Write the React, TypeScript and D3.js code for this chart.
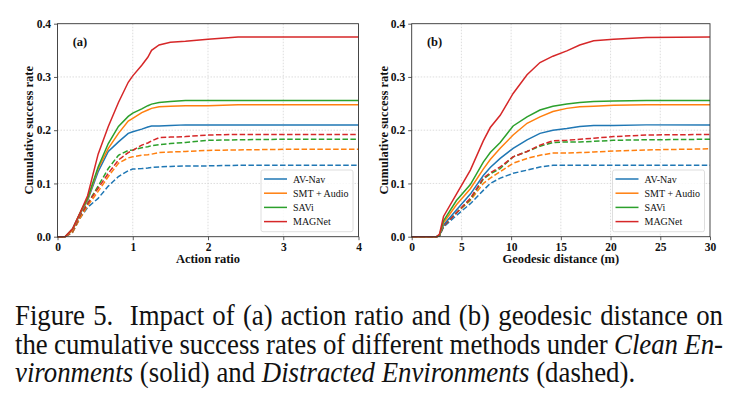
import React, { useRef, useEffect } from 'react';
import * as d3 from 'd3';

const methods = ['AV-Nav', 'SMT + Audio', 'SAVi', 'MAGNet'];
const colors = ['#1f77b4', '#ff7f0e', '#2ca02c', '#d62728'];

// (a) action ratio
const ratioX = [0, 0.1, 0.2, 0.3, 0.4, 0.54, 0.675, 0.81, 0.94, 1.0, 1.12, 1.2, 1.25, 1.35, 1.5, 1.7, 2.0, 2.4, 3.0, 4.0];
const ratioAvNav = [0, 0, 0.012, 0.043, 0.068, 0.122, 0.16, 0.178, 0.194, 0.197, 0.202, 0.206, 0.208, 0.208, 0.209, 0.21, 0.21, 0.21, 0.21, 0.21];
const ratioSmt = [0, 0, 0.012, 0.044, 0.07, 0.128, 0.166, 0.194, 0.217, 0.222, 0.233, 0.238, 0.241, 0.244, 0.245, 0.246, 0.246, 0.248, 0.248, 0.248];
const ratioSavi = [0, 0, 0.015, 0.045, 0.072, 0.131, 0.175, 0.207, 0.226, 0.232, 0.24, 0.246, 0.249, 0.252, 0.254, 0.256, 0.256, 0.256, 0.256, 0.256];
const ratioMagnet = [0, 0, 0.015, 0.045, 0.077, 0.155, 0.207, 0.252, 0.29, 0.302, 0.322, 0.337, 0.35, 0.36, 0.365, 0.367, 0.371, 0.375, 0.375, 0.375];
const ratioAvNavD = [0, 0, 0.008, 0.035, 0.055, 0.072, 0.095, 0.113, 0.124, 0.127, 0.128, 0.129, 0.13, 0.131, 0.132, 0.133, 0.133, 0.134, 0.134, 0.134];
const ratioSmtD = [0, 0, 0.008, 0.035, 0.058, 0.085, 0.113, 0.138, 0.148, 0.15, 0.153, 0.154, 0.155, 0.158, 0.159, 0.16, 0.162, 0.163, 0.164, 0.164];
const ratioSaviD = [0, 0, 0.01, 0.04, 0.062, 0.095, 0.128, 0.153, 0.162, 0.163, 0.167, 0.169, 0.171, 0.173, 0.175, 0.177, 0.181, 0.182, 0.183, 0.183];
const ratioMagnetD = [0, 0, 0.01, 0.04, 0.062, 0.091, 0.119, 0.144, 0.158, 0.162, 0.172, 0.176, 0.18, 0.186, 0.187, 0.188, 0.191, 0.192, 0.192, 0.192];

// (b) geodesic distance
const distX = [0, 2.5, 2.8, 3.2, 4.5, 5.9, 7.2, 7.9, 8.9, 10.2, 11.6, 12.9, 14.2, 15.6, 16.9, 18.3, 20.3, 23.6, 30];
const distAvNav = [0, 0, 0.002, 0.022, 0.05, 0.08, 0.115, 0.13, 0.147, 0.166, 0.182, 0.194, 0.2, 0.203, 0.207, 0.209, 0.209, 0.21, 0.21];
const distSmt = [0, 0, 0.003, 0.026, 0.06, 0.09, 0.127, 0.145, 0.166, 0.191, 0.213, 0.225, 0.235, 0.241, 0.244, 0.245, 0.247, 0.248, 0.248];
const distSavi = [0, 0, 0.003, 0.03, 0.068, 0.098, 0.14, 0.158, 0.177, 0.208, 0.225, 0.238, 0.245, 0.249, 0.252, 0.254, 0.255, 0.256, 0.256];
const distMagnet = [0, 0, 0.005, 0.038, 0.08, 0.125, 0.18, 0.205, 0.228, 0.269, 0.304, 0.327, 0.339, 0.349, 0.36, 0.368, 0.371, 0.374, 0.375];
const distAvNavD = [0, 0, 0.002, 0.018, 0.04, 0.062, 0.087, 0.1, 0.11, 0.119, 0.125, 0.131, 0.134, 0.134, 0.134, 0.134, 0.134, 0.134, 0.134];
const distSmtD = [0, 0, 0.002, 0.02, 0.045, 0.068, 0.1, 0.11, 0.122, 0.138, 0.147, 0.153, 0.157, 0.157, 0.158, 0.159, 0.161, 0.163, 0.165];
const distSaviD = [0, 0, 0.002, 0.02, 0.045, 0.07, 0.108, 0.118, 0.128, 0.15, 0.16, 0.17, 0.177, 0.178, 0.178, 0.179, 0.181, 0.182, 0.183];
const distMagnetD = [0, 0, 0.002, 0.02, 0.045, 0.072, 0.11, 0.12, 0.131, 0.15, 0.16, 0.172, 0.18, 0.181, 0.183, 0.185, 0.188, 0.191, 0.192];

const yTicks = [0, 0.1, 0.2, 0.3, 0.4];
const ratioTicks = [0, 1, 2, 3, 4];
const distTicks = [0, 5, 10, 15, 20, 25, 30];

const captionLines = [
  [{ t: 'Figure 5.  Impact of (a) action ratio and (b) geodesic distance on', i: false }],
  [{ t: 'the cumulative success rates of different methods under ', i: false }, { t: 'Clean En-', i: true }],
  [{ t: 'vironments', i: true }, { t: ' (solid) and ', i: false }, { t: 'Distracted Environments', i: true }, { t: ' (dashed).', i: false }],
];

const SERIF = '"Liberation Serif", "Times New Roman", serif';

const App = () => {
  const ref = useRef<SVGSVGElement>(null);

  useEffect(() => {
    const svg = d3.select(ref.current);
    svg.selectAll('*').remove();

    const top = 23.7, bottom = 236.7;
    const y = d3.scaleLinear().domain([0, 0.4]).range([bottom, top]);

    const drawPanel = (opts) => {
      const { left, right, xMax, xs, solid, dashed, ticks, label, xLabel, yLabelX } = opts;
      const x = d3.scaleLinear().domain([0, xMax]).range([left, right]);
      const g = svg.append('g');

      // grid
      g.selectAll('.gx').data(ticks.slice(1, -1)).enter().append('line')
        .attr('x1', d => x(d)).attr('x2', d => x(d)).attr('y1', top).attr('y2', bottom)
        .attr('stroke', '#d4d4d4').attr('stroke-width', 0.8).attr('stroke-dasharray', '1.5,1.5');
      g.selectAll('.gy').data(yTicks.slice(1, -1)).enter().append('line')
        .attr('x1', left).attr('x2', right).attr('y1', d => y(d)).attr('y2', d => y(d))
        .attr('stroke', '#d4d4d4').attr('stroke-width', 0.8).attr('stroke-dasharray', '1.5,1.5');

      const line = d3.line<number>().x((d, i) => x(xs[i])).y(d => y(d));
      dashed.forEach((vals, k) => {
        g.append('path').attr('d', line(vals)).attr('fill', 'none')
          .attr('stroke', colors[k]).attr('stroke-width', 1.5).attr('stroke-dasharray', '5.5,2.4');
      });
      solid.forEach((vals, k) => {
        g.append('path').attr('d', line(vals)).attr('fill', 'none')
          .attr('stroke', colors[k]).attr('stroke-width', 1.5);
      });

      // axes
      const xa = g.append('g').attr('transform', `translate(0,${bottom})`)
        .call(d3.axisBottom(x).tickValues(ticks).tickFormat(d3.format('d')).tickSize(3.5).tickPadding(3));
      const ya = g.append('g').attr('transform', `translate(${left},0)`)
        .call(d3.axisLeft(y).tickValues(yTicks).tickFormat(d3.format('.1f')).tickSize(3.5).tickPadding(3));
      [xa, ya].forEach(a => {
        a.select('.domain').remove();
        a.selectAll('line').attr('stroke', '#333').attr('stroke-width', 0.8);
        a.selectAll('text').attr('font-family', SERIF).attr('font-size', 11.5)
          .attr('font-weight', 'bold').attr('fill', '#111');
      });

      g.append('rect').attr('x', left).attr('y', top).attr('width', right - left).attr('height', bottom - top)
        .attr('fill', 'none').attr('stroke', '#333').attr('stroke-width', 0.9);

      g.append('text').attr('x', left + 15.2).attr('y', 45.5).text(label)
        .attr('font-family', SERIF).attr('font-size', 12.5).attr('font-weight', 'bold').attr('fill', '#111');

      g.append('text').attr('x', (left + right) / 2).attr('y', 263.3).attr('text-anchor', 'middle')
        .text(xLabel).attr('font-family', SERIF).attr('font-size', 12.5).attr('font-weight', 'bold').attr('fill', '#111');
      g.append('text').attr('transform', `translate(${yLabelX},${(top + bottom) / 2}) rotate(-90)`)
        .attr('text-anchor', 'middle').text('Cumulative success rate')
        .attr('font-family', SERIF).attr('font-size', 12.5).attr('font-weight', 'bold').attr('fill', '#111');

      // legend
      const bw = 92, bh = 61.7;
      const bx = right - 5.5 - bw, by = bottom - 5 - bh;
      const lg = g.append('g');
      lg.append('rect').attr('x', bx).attr('y', by).attr('width', bw).attr('height', bh).attr('rx', 2)
        .attr('fill', 'white').attr('fill-opacity', 0.8).attr('stroke', '#d6d6d6').attr('stroke-width', 0.8);
      methods.forEach((m, k) => {
        const yy = by + 9 + k * 14.2;
        lg.append('line').attr('x1', bx + 3).attr('x2', bx + 26).attr('y1', yy).attr('y2', yy)
          .attr('stroke', colors[k]).attr('stroke-width', 1.5);
        lg.append('text').attr('x', bx + 32).attr('y', yy).attr('dy', '0.35em').text(m)
          .attr('font-family', SERIF).attr('font-size', 10).attr('fill', '#111');
      });
    };

    drawPanel({
      left: 57.5, right: 358.5, xMax: 4, xs: ratioX, ticks: ratioTicks, label: '(a)', xLabel: 'Action ratio', yLabelX: 33,
      solid: [ratioAvNav, ratioSmt, ratioSavi, ratioMagnet],
      dashed: [ratioAvNavD, ratioSmtD, ratioSaviD, ratioMagnetD],
    });
    drawPanel({
      left: 411.7, right: 710, xMax: 30, xs: distX, ticks: distTicks, label: '(b)', xLabel: 'Geodesic distance (m)', yLabelX: 388,
      solid: [distAvNav, distSmt, distSavi, distMagnet],
      dashed: [distAvNavD, distSmtD, distSaviD, distMagnetD],
    });

    // caption, first two lines justified
    const baselines = [325, 353.5, 382];
    const capLeft = 15, capRight = 723;
    captionLines.forEach((parts, li) => {
      const t = svg.append('text')
        .attr('transform', `translate(${capLeft},${baselines[li]}) scale(1,1.06)`)
        .attr('font-family', SERIF).attr('font-size', 26.8).attr('fill', '#111')
        .style('white-space', 'pre');
      parts.forEach(p => {
        t.append('tspan').text(p.t).attr('font-style', p.i ? 'italic' : 'normal');
      });
      if (li < 2) {
        const natural = (t.node() as SVGTextElement).getComputedTextLength();
        const spaces = parts.map(p => p.t).join('').split(' ').length - 1;
        t.attr('word-spacing', (capRight - capLeft - natural) / spaces);
      }
    });
  }, []);

  return (
    <>
      <style>{`body { margin: 0; background: white; }`}</style>
      <svg ref={ref} width={740} height={411} style={{ display: 'block' }} />
    </>
  );
};

export default App;
